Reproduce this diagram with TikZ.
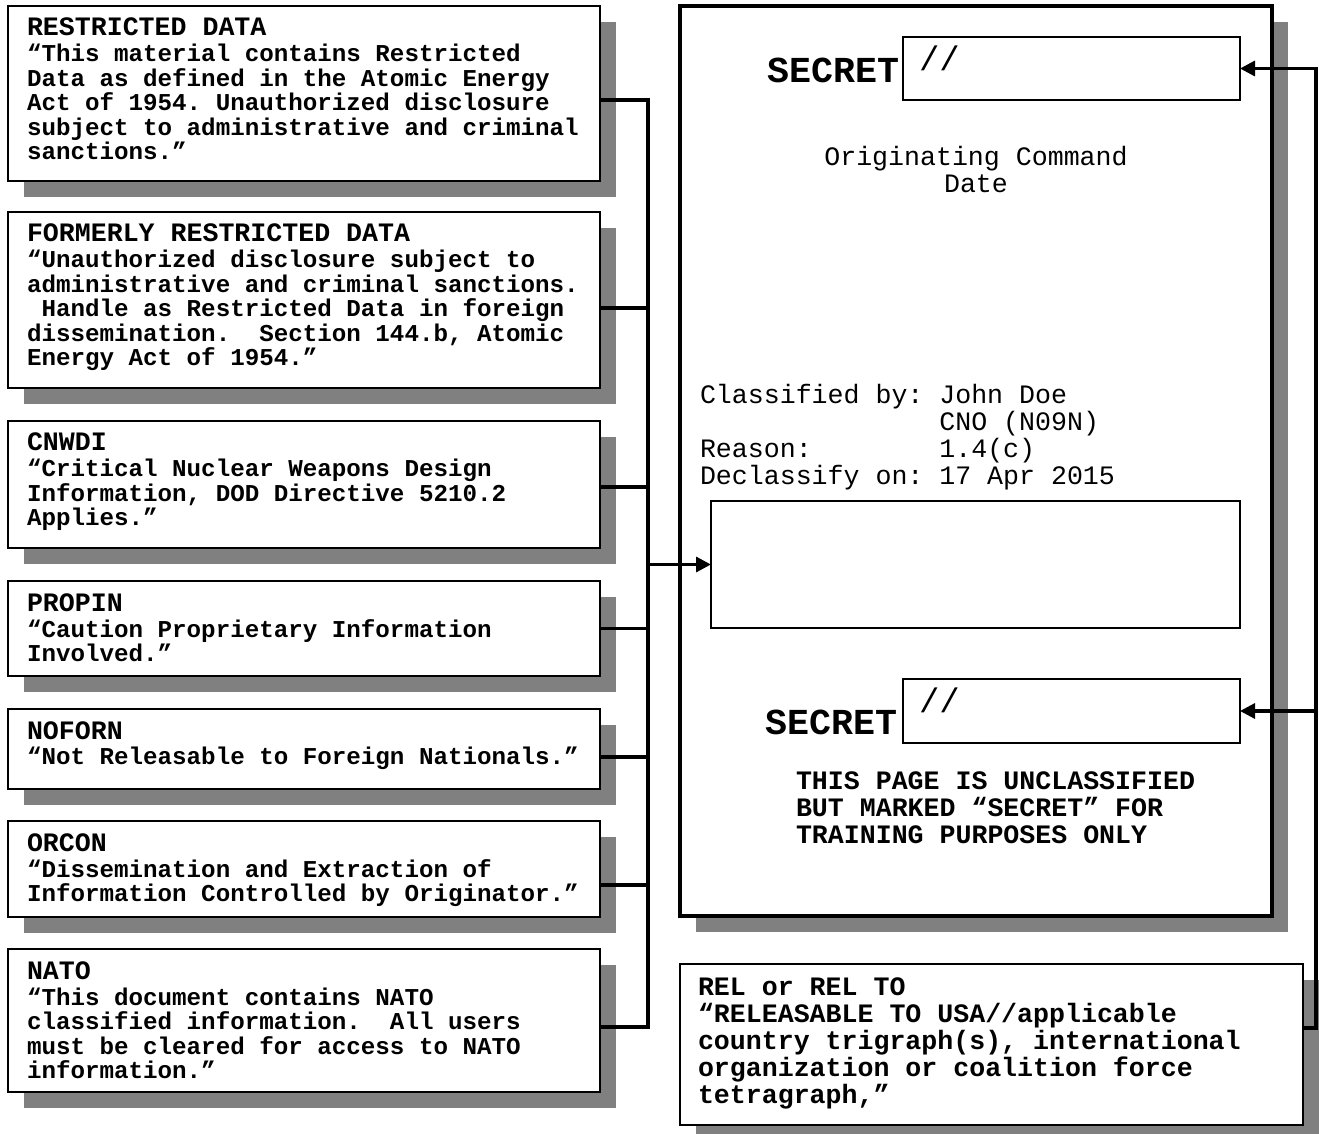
\documentclass[tikz,border=0pt]{standalone}
\usepackage{fontspec}
\newfontfamily\mono{Liberation Mono}
\usetikzlibrary{arrows.meta,shadows}
\definecolor{shade}{gray}{0.5}
\tikzset{
  box/.style={draw, fill=white, rectangle, inner sep=0pt, outer sep=0pt, anchor=north west},
  sbox/.style={box, line width=1.1pt, drop shadow={shadow xshift=8pt, shadow yshift=-8pt, opacity=1, fill=shade}},
  pagebox/.style={box, line width=1.8pt, drop shadow={shadow xshift=8pt, shadow yshift=-8pt, opacity=1, fill=shade}},
  inbox/.style={box, line width=1pt},
  txt/.style={inner sep=0pt, outer sep=0pt, anchor=base west},
  conn/.style={line width=1.6pt},
  arr/.style={-{Triangle[length=7.5pt,width=7.5pt]}},
}
\newcommand\lefttxt[2]{\parbox[t]{300pt}{\mono\bfseries\fontsize{12.1}{12.25}\selectfont\frenchspacing
{\fontsize{13.3}{12.25}\selectfont #1}\\[0.75pt]#2}}
\newcommand\righttxt[1]{\parbox[t]{320pt}{\mono\fontsize{13.3}{13.5}\selectfont\frenchspacing #1}}
\begin{document}
\begin{tikzpicture}[x=0.5pt,y=-0.5pt]
\useasboundingbox[fill=white] (0,0) rectangle (1319,1134);
% left boxes
\node[sbox, minimum width=296pt, minimum height=87.5pt] (b1) at (8,6) {};
\node[sbox, minimum width=296pt, minimum height=88pt] (b2) at (8,212) {};
\node[sbox, minimum width=296pt, minimum height=63.5pt] (b3) at (8,421) {};
\node[sbox, minimum width=296pt, minimum height=47.5pt] (b4) at (8,581) {};
\node[sbox, minimum width=296pt, minimum height=40pt] (b5) at (8,709) {};
\node[sbox, minimum width=296pt, minimum height=48pt] (b6) at (8,821) {};
\node[sbox, minimum width=296pt, minimum height=71.5pt] (b7) at (8,949) {};
\node[txt] (t1) at (27,36) {\lefttxt{RESTRICTED DATA}{“This material contains Restricted\\
Data as defined in the Atomic Energy\\
Act of 1954. Unauthorized disclosure\\
subject to administrative and criminal\\
sanctions.”}};
\node[txt] (t2) at (27,242) {\lefttxt{FORMERLY RESTRICTED DATA}{“Unauthorized disclosure subject to\\
administrative and criminal sanctions.\\
\hspace*{0.6em}Handle as Restricted Data in foreign\\
dissemination.\ \ Section 144.b, Atomic\\
Energy Act of 1954.”}};
\node[txt] (t3) at (27,451) {\lefttxt{CNWDI}{“Critical Nuclear Weapons Design\\
Information, DOD Directive 5210.2\\
Applies.”}};
\node[txt] (t4) at (27,611) {\lefttxt{PROPIN}{“Caution Proprietary Information\\
Involved.”}};
\node[txt] (t5) at (27,739) {\lefttxt{NOFORN}{“Not Releasable to Foreign Nationals.”}};
\node[txt] (t6) at (27,851) {\lefttxt{ORCON}{“Dissemination and Extraction of\\
Information Controlled by Originator.”}};
\node[txt] (t7) at (27,979) {\lefttxt{NATO}{“This document contains NATO\\
classified information.\ \ All users\\
must be cleared for access to NATO\\
information.”}};
% page
\node[pagebox, minimum width=296pt, minimum height=455pt] (page) at (680,6) {};
\node[inbox, minimum width=168.5pt, minimum height=31.5pt] (s1) at (903,37) {};
\node[inbox, minimum width=264.5pt, minimum height=63.5pt] (e) at (711,501) {};
\node[inbox, minimum width=168.5pt, minimum height=32pt] (s2) at (903,679) {};
\node[inner sep=0pt, anchor=base east] (sec1) at (900,83) {\mono\bfseries\fontsize{18.3}{18.3}\selectfont SECRET};
\node[inner sep=0pt, anchor=base east] (sec2) at (898,734) {\mono\bfseries\fontsize{18.3}{18.3}\selectfont SECRET};
\node[txt] (sl1) at (919,71) {\mono\fontsize{17}{17}\selectfont //};
\node[txt] (sl2) at (919,712) {\mono\fontsize{17}{17}\selectfont //};
\node[inner sep=0pt, anchor=base] (orig) at (976,166) {\parbox[t]{300pt}{\centering\mono\fontsize{13.3}{13.5}\selectfont Originating Command\\Date}};
\node[txt] (cls) at (700,404) {\righttxt{\makebox[9em][l]{Classified by:}John Doe\\
\makebox[9em][l]{}CNO (N09N)\\
\makebox[9em][l]{Reason:}1.4(c)\\
\makebox[9em][l]{Declassify on:}17 Apr 2015}};
\node[txt] (note) at (796,789) {\righttxt{\bfseries THIS PAGE IS UNCLASSIFIED\\
BUT MARKED “SECRET” FOR\\
TRAINING PURPOSES ONLY}};
% REL box
\node[sbox, line width=1pt, minimum width=311.5pt, minimum height=80.5pt] (rel) at (680,964) {};
\node[txt] (reltxt) at (698,995) {\righttxt{\bfseries REL or REL TO\\
“RELEASABLE TO USA//applicable\\
country trigraph(s), international\\
organization or coalition force\\
tetragraph,”}};
% connectors
\coordinate (bus) at (648,564.5);
\draw[conn] ([yshift=-3.25pt]b1.east) -| (bus);
\draw[conn] ([yshift=-4pt]b2.east) -| (bus);
\draw[conn] ([yshift=-1.25pt]b3.east) -| (bus);
\draw[conn] (b4.east) -| (bus);
\draw[conn] ([yshift=-4pt]b5.east) -| (bus);
\draw[conn] ([yshift=-8pt]b6.east) -| (bus);
\draw[conn] ([yshift=-3.25pt]b7.east) -| (bus);
\draw[conn,arr] (bus) -- (e.west);
\coordinate (rt) at (1316,68.5);
\coordinate (rb) at (1316,711);
\draw[conn,arr] ([yshift=8.25pt]rel.east) -| (rt) -- (s1.east);
\draw[conn,arr] (rb) -- (s2.east);
\end{tikzpicture}
\end{document}
